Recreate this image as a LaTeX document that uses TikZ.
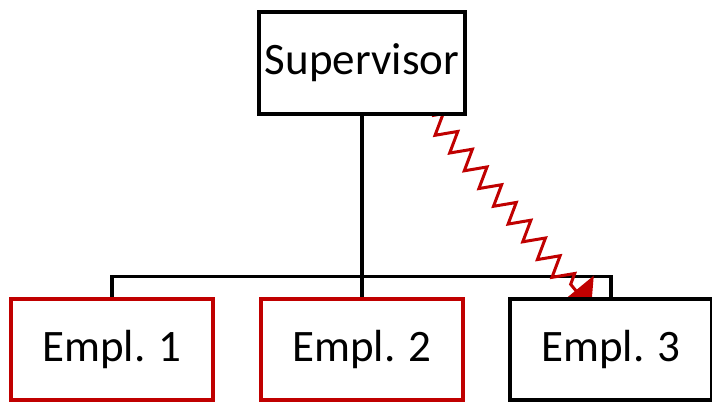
\documentclass[tikz,border=0pt]{standalone}
\usepackage{fontspec}
\setmainfont{Carlito}
\usetikzlibrary{decorations.pathmorphing,arrows.meta,backgrounds}
\definecolor{boxred}{HTML}{C00000}
\begin{document}
\begin{tikzpicture}[x=1pt,y=-1pt]
\tikzstyle{every node}+=[font=\fontsize{45}{54}\selectfont]
\tikzstyle{orgbox}=[draw=black, line width=3.2pt, fill=white, inner sep=0pt, minimum width=202pt, minimum height=101pt, text height=32pt, text depth=9pt]
\tikzstyle{orgline}=[draw=black, line width=3.2pt]
\tikzstyle{zzline}=[draw=boxred, line width=3pt, decorate, decoration={zigzag, segment length=23pt, amplitude=10pt, post=lineto, post length=28pt}]
\useasboundingbox (0,0) rectangle (712,402);
\clip (0,0) rectangle (712,402);
\node [orgbox, minimum width=206pt, minimum height=102pt] (sup) at (362,63) {Supervisor};
\node [orgbox, draw=boxred] (e1) at (112,349.5) {Empl. 1};
\node [orgbox, draw=boxred] (e2) at (362,349.5) {Empl. 2};
\node [orgbox] (e3) at (611,349.5) {Empl. 3};
\coordinate (zzend) at (591,309);
\begin{scope}[on background layer]
\draw [orgline] (e1.north) -- ++(0,-21) coordinate (bus1) -| (e3.north);
\draw [orgline] (sup.south) -- (sup.south |- bus1);
\draw [orgline] (e2.north) -- (e2.north |- bus1);
\draw [zzline, -{Triangle[width=46pt,length=24pt]}] (sup.-37) -- (zzend);
\end{scope}
\end{tikzpicture}
\end{document}
